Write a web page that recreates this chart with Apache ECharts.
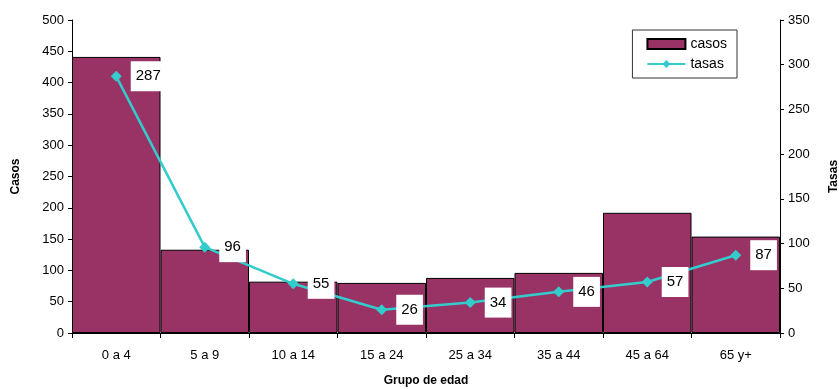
<!DOCTYPE html>
<html>
<head>
<meta charset="utf-8">
<script src="https://cdn.jsdelivr.net/npm/echarts@6/dist/echarts.min.js"></script>
<style>
  html, body { margin: 0; padding: 0; background: #fff; }
  #chart { width: 839px; height: 389px; }
</style>
</head>
<body>
<div id="chart"></div>
<script>
const categories = ['0 a 4', '5 a 9', '10 a 14', '15 a 24', '25 a 34', '35 a 44', '45 a 64', '65 y+'];
const casos = [441, 133, 82, 80, 88, 96, 192, 154];
const tasas = [287, 96, 55, 26, 34, 46, 57, 87];

const chart = echarts.init(document.getElementById('chart'));

const option = {
  animation: false,
  textStyle: { fontFamily: 'Liberation Sans, Arial, sans-serif' },
  grid: { left: 72, right: 59, top: 20, bottom: 56, outerBoundsMode: 'none', containLabel: false },
  legend: {
    right: 102,
    top: 30,
    orient: 'vertical',
    backgroundColor: '#fff',
    borderColor: '#333',
    borderWidth: 1,
    borderRadius: 0,
    padding: [7, 10, 7, 14],
    itemGap: 6,
    itemWidth: 38,
    itemHeight: 10,
    textStyle: { fontSize: 14, color: '#000' },
    data: [
      { name: 'casos', icon: 'rect' },
      { name: 'tasas' }
    ]
  },
  xAxis: {
    type: 'category',
    data: categories,
    boundaryGap: true,
    name: 'Grupo de edad',
    nameLocation: 'middle',
    nameGap: 42,
    nameTextStyle: { fontWeight: 'bold', fontSize: 12, color: '#000' },
    axisLine: { lineStyle: { color: '#000' } },
    axisTick: { show: true, length: 5, lineStyle: { color: '#000' } },
    axisLabel: { fontSize: 13, color: '#000', margin: 16, fontFamily: 'Liberation Sans Narrow, Liberation Sans, sans-serif' }
  },
  yAxis: [
    {
      type: 'value',
      min: 0,
      max: 500,
      interval: 50,
      name: 'Casos',
      nameLocation: 'middle',
      nameGap: 50,
      nameRotate: 90,
      nameTextStyle: { fontWeight: 'bold', fontSize: 12, color: '#000' },
      axisLine: { show: true, lineStyle: { color: '#000' } },
      axisTick: { show: true, length: 4, lineStyle: { color: '#000' } },
      axisLabel: { fontSize: 13, color: '#000', margin: 8 },
      splitLine: { show: false }
    },
    {
      type: 'value',
      min: 0,
      max: 350,
      interval: 50,
      position: 'right',
      name: 'Tasas',
      nameLocation: 'middle',
      nameGap: 48,
      nameRotate: 90,
      nameTextStyle: { fontWeight: 'bold', fontSize: 12, color: '#000' },
      axisLine: { show: true, lineStyle: { color: '#000' } },
      axisTick: { show: true, length: 4, lineStyle: { color: '#000' } },
      axisLabel: { fontSize: 13, color: '#000', margin: 8 },
      splitLine: { show: false }
    }
  ],
  series: [
    {
      name: 'casos',
      type: 'bar',
      data: casos,
      barWidth: '100%',
      barGap: '0%',
      itemStyle: { color: '#993366', borderColor: '#000', borderWidth: 1 }
    },
    {
      name: 'tasas',
      type: 'line',
      yAxisIndex: 1,
      data: tasas,
      symbol: 'diamond',
      symbolSize: 11,
      lineStyle: { color: '#33CCCC', width: 2.5 },
      itemStyle: { color: '#33CCCC' },
      label: {
        show: true,
        position: 'right',
        distance: 9,
        backgroundColor: '#fff',
        padding: [8, 5, 7, 5],
        fontSize: 15,
        color: '#000'
      },
      z: 5
    }
  ]
};

chart.setOption(option);
window.addEventListener('resize', () => {
  chart.resize();
});
</script>
</body>
</html>
